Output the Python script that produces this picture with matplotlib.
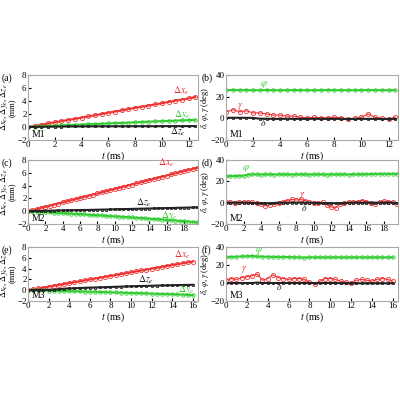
import numpy as np
import matplotlib
matplotlib.use("Agg")
import matplotlib.pyplot as plt

plt.rcParams["font.family"] = ["Liberation Serif", "DejaVu Serif"]
plt.rcParams["mathtext.fontset"] = "stix"
plt.rcParams["font.size"] = 6.5

# ---- M1 (0.5 ms sampling) ----
m1_dx = [0, 0.15, 0.35, 0.55, 0.72, 0.9, 1.08, 1.25, 1.45, 1.62, 1.8, 2.0, 2.2,
         2.38, 2.55, 2.75, 2.95, 3.12, 3.3, 3.48, 3.65, 3.85, 4.05, 4.22, 4.4, 4.6]
m1_dy = [0, 0.05, 0.1, 0.15, 0.2, 0.25, 0.3, 0.33, 0.37, 0.42, 0.46, 0.5, 0.55,
         0.6, 0.63, 0.68, 0.72, 0.77, 0.82, 0.86, 0.9, 0.94, 0.98, 1.02, 1.06, 1.1]
m1_dz = [0, 0.02, 0.04, 0.05, 0.06, 0.07, 0.08, 0.08, 0.09, 0.1, 0.1, 0.1, 0.1,
         0.11, 0.11, 0.11, 0.12, 0.12, 0.12, 0.12, 0.13, 0.13, 0.13, 0.13, 0.14, 0.14]
m1_phi = [26, 26.2, 26, 26.1, 25.9, 26, 26.1, 26, 25.8, 26, 26.1, 26, 26,
          25.9, 26, 26.1, 26, 26, 25.9, 26, 26, 26.1, 26, 26, 25.9, 26]
m1_gam = [6, 8, 6, 7, 5, 5, 4, 3, 3, 2, 2, 1, 0.5, 1, 0.5, 0.5, 1, 0.5, -1, 0,
          1, 4, 1, 0, -1, 1]
m1_del = [0.5, 0.5, 0.5, 0.5, 0.4, -0.3, -0.4, -0.5, -0.5, -0.4, -0.5, -0.5, -0.5,
          -0.4, -0.5, -0.5, -0.5, -0.5, -0.6, -0.5, -0.5, -0.5, -0.5, -0.5, -0.5, -0.5]

# ---- M2 ----
m2_dx = [0, 0.15, 0.33, 0.5, 0.68, 0.85, 1.03, 1.2, 1.38, 1.55, 1.72, 1.9, 2.07,
         2.25, 2.42, 2.6, 2.77, 2.95, 3.12, 3.3, 3.47, 3.65, 3.82, 4.0, 4.17, 4.35,
         4.52, 4.7, 4.87, 5.05, 5.22, 5.4, 5.57, 5.75, 5.92, 6.1, 6.27, 6.45, 6.6, 6.75]
m2_dz = [0, 0.02, 0.04, 0.05, 0.07, 0.08, 0.1, 0.11, 0.12, 0.14, 0.15, 0.16, 0.18,
         0.19, 0.2, 0.22, 0.23, 0.25, 0.26, 0.28, 0.3, 0.31, 0.33, 0.34, 0.36, 0.38,
         0.39, 0.41, 0.42, 0.44, 0.46, 0.47, 0.49, 0.5, 0.52, 0.54, 0.55, 0.57, 0.58, 0.6]
m2_dy = [0, -0.03, -0.07, -0.1, -0.14, -0.18, -0.22, -0.26, -0.3, -0.34, -0.38, -0.42,
         -0.46, -0.5, -0.55, -0.59, -0.63, -0.67, -0.72, -0.76, -0.8, -0.85, -0.89,
         -0.94, -0.98, -1.03, -1.07, -1.12, -1.17, -1.21, -1.26, -1.31, -1.36, -1.41,
         -1.46, -1.51, -1.56, -1.62, -1.68, -1.75]
m2_phi = [25, 25, 25, 25.2, 25.3, 26.3, 26.5, 26.5, 26.4, 26.5, 26.5, 26.4, 26.5,
          26.5, 26.5, 26.4, 26.5, 26.5, 26.5, 26.4, 26.5, 26.5, 26.5, 26.4, 26.5, 26.5,
          26.5, 26.5, 26.4, 26.5, 26.5, 26.6, 26.7, 26.8, 26.9, 27, 27, 27, 27, 27]
m2_gam = [0.5, 0.5, 0, 0.5, 0.5, 0.5, 0.5, -0.5, -1, -3, -2, -1, 0, 0.5, 2, 3, 2.5,
          3, 2, 0.5, -0.5, 0, 0.5, -2, -4, -5, -1, -0.5, 0.5, 0.5, 1, 2, 1, 0, -1,
          0.5, 1.5, 1, 0.5, -1]
m2_del = [0, 0, 0, 0, 0, 0, -0.3, -0.5, -0.5, -0.5, -0.5, -0.3, 0, 0, 0, 0, 0, 0,
          0, 0, 0, -0.3, -0.5, -0.5, -0.5, -0.5, -0.5, -0.3, 0, 0, 0, 0, 0, 0, 0, 0,
          0, 0, 0, -0.5]

# ---- M3 ----
m3_dx = [0, 0.15, 0.32, 0.49, 0.65, 0.82, 0.99, 1.15, 1.32, 1.49, 1.65, 1.82, 1.99,
         2.15, 2.32, 2.49, 2.65, 2.82, 2.99, 3.15, 3.32, 3.49, 3.65, 3.82, 3.99, 4.15,
         4.32, 4.49, 4.65, 4.82, 4.99, 5.15, 5.3]
m3_dz = [0, 0.02, 0.04, 0.06, 0.08, 0.1, 0.2, 0.28, 0.32, 0.36, 0.4, 0.44, 0.48,
         0.5, 0.53, 0.56, 0.6, 0.63, 0.66, 0.69, 0.72, 0.75, 0.78, 0.8, 0.83, 0.86,
         0.88, 0.9, 0.92, 0.94, 0.96, 0.98, 1.0]
m3_dy = [0, -0.01, -0.03, -0.05, -0.07, -0.1, -0.12, -0.15, -0.17, -0.2, -0.22,
         -0.25, -0.28, -0.3, -0.33, -0.36, -0.39, -0.42, -0.45, -0.48, -0.51, -0.54,
         -0.57, -0.6, -0.63, -0.66, -0.69, -0.72, -0.75, -0.78, -0.82, -0.86, -0.9]
m3_phi = [29, 29, 29.2, 29.5, 29.8, 30, 29.5, 29.3, 29.2, 29, 29, 29, 28.8, 28.6,
          28.5, 28.3, 28.5, 28.5, 28.5, 28.4, 28.5, 28.5, 28.5, 28.4, 28.5, 28.5,
          28.5, 28.4, 28.5, 28.5, 28.4, 28.5, 28.5]
m3_gam = [3, 5, 4, 6, 7, 8, 10, 3, 5, 9, 6, 5, 4, 5, 5, 4, 1, -1, 2, 5, 5, 4, 2,
          1, 0, 3, 4, 3, 2, 4, 5, 4, 2]
m3_del = [0, 0, 0, 0, 0, 0, 0.5, 0, 0, 0, 0, 0, 0, 0, 0, 0, 0, 0, 0, 0, 0, 0, -0.3,
          -0.3, -0.3, -0.3, -0.3, -0.3, -0.3, -0.3, -0.3, -0.3, -0.3]

cases = [
    ("M1", 12.7, [0, 2, 4, 6, 8, 10, 12], m1_dx, m1_dy, m1_dz, m1_phi, m1_gam, m1_del),
    ("M2", 19.6, [0, 2, 4, 6, 8, 10, 12, 14, 16, 18], m2_dx, m2_dy, m2_dz, m2_phi, m2_gam, m2_del),
    ("M3", 16.5, [0, 2, 4, 6, 8, 10, 12, 14, 16], m3_dx, m3_dy, m3_dz, m3_phi, m3_gam, m3_del),
]

RED, GREEN, BLACK = "#ee3333", "#33cc33", "#222222"
rows = [(0.65, 0.1625), (0.44, 0.16), (0.2475, 0.135)]
letters = ["(a)", "(b)", "(c)", "(d)", "(e)", "(f)"]
label_pos = {"M1": [(10.8, 5.2), (10.9, 1.6), (10.6, -1.2)],
             "M2": [(15.0, 7.2), (15.3, -1.0), (12.5, 0.9)],
             "M3": [(14.2, 6.0), (14.6, -0.4), (10.7, 1.4)]}
ang_pos = {"M1": [(2.5, 30), (0.8, 10), (2.5, -7)],
           "M2": [(1.8, 31), (8.3, 5), (8.5, -8)],
           "M3": [(2.8, 34), (1.4, 13), (4.8, -8)]}

fig = plt.figure(figsize=(4, 4), dpi=100)
for i, (name, tmax, xt, dx, dy, dz, phi, gam, dl) in enumerate(cases):
    b, h = rows[i]
    t = np.arange(len(dx)) * 0.5
    ax = fig.add_axes([0.07, b, 0.425, h])
    ax.plot(t, dx, "o", color=RED, mfc="none", ms=3, mew=0.6, ls="-", lw=1.5)
    ax.plot(t, dy, "o", color=GREEN, mfc="none", ms=2.5, mew=0.6, ls="-", lw=1.5)
    ax.plot(t, dz, "s", color=BLACK, mfc="none", ms=2, mew=0.6, ls="-", lw=1.5)
    ax.set_xlim(0, tmax)
    ax.set_ylim(-2, 8)
    ax.set_xticks(xt)
    ax.set_yticks([-2, 0, 2, 4, 6, 8])
    ax.set_xlabel("$t$ (ms)", labelpad=0, fontsize=7)
    ax.set_ylabel("$\\Delta x_e$, $\\Delta y_e$, $\\Delta z_e$\n(mm)", labelpad=0,
                  linespacing=0.8, fontsize=6)
    (xa, ya), (xb, yb), (xc, yc) = label_pos[name]
    ax.text(xa, ya, "$\\Delta x_e$", color=RED, fontsize=7)
    ax.text(xb, yb, "$\\Delta y_e$", color=GREEN, fontsize=7)
    ax.text(xc, yc, "$\\Delta z_e$", color=BLACK, fontsize=7)
    ax.text(0.02, 0.05, name, transform=ax.transAxes, fontsize=7)
    fig.text(0.005, b + h + 0.005, letters[2 * i], va="top", fontsize=7)

    ax2 = fig.add_axes([0.565, b, 0.43, h])
    ax2.plot(t[:len(phi)], phi, "o", color=GREEN, mfc="none", ms=2.5, mew=0.6, ls="-", lw=1.5)
    ax2.plot(t[:len(gam)], gam, "o", color=RED, mfc="none", ms=3, mew=0.6, ls="-", lw=0.8)
    ax2.plot(t[:len(dl)], dl, "s", color=BLACK, mfc="none", ms=2, mew=0.6, ls="-", lw=1.5)
    ax2.set_xlim(0, tmax)
    ax2.set_ylim(-20, 40)
    ax2.set_xticks(xt)
    ax2.set_yticks([-20, 0, 20, 40])
    ax2.set_xlabel("$t$ (ms)", labelpad=0, fontsize=7)
    ax2.set_ylabel("$\\delta$, $\\varphi$, $\\gamma$ (deg)", labelpad=0, fontsize=6)
    (pa, pb), (ga, gb), (da, db) = ang_pos[name]
    ax2.text(pa, pb, "$\\varphi$", color=GREEN, fontsize=7)
    ax2.text(ga, gb, "$\\gamma$", color=RED, fontsize=7)
    ax2.text(da, db, "$\\delta$", color=BLACK, fontsize=7)
    ax2.text(0.02, 0.05, name, transform=ax2.transAxes, fontsize=7)
    fig.text(0.505, b + h + 0.005, letters[2 * i + 1], va="top", fontsize=7)

    for a in (ax, ax2):
        a.tick_params(direction="in", length=2, pad=1, labelsize=6.5)
        for s in a.spines.values():
            s.set_color("#aaaaaa")

fig.savefig("out.png", dpi=100)
